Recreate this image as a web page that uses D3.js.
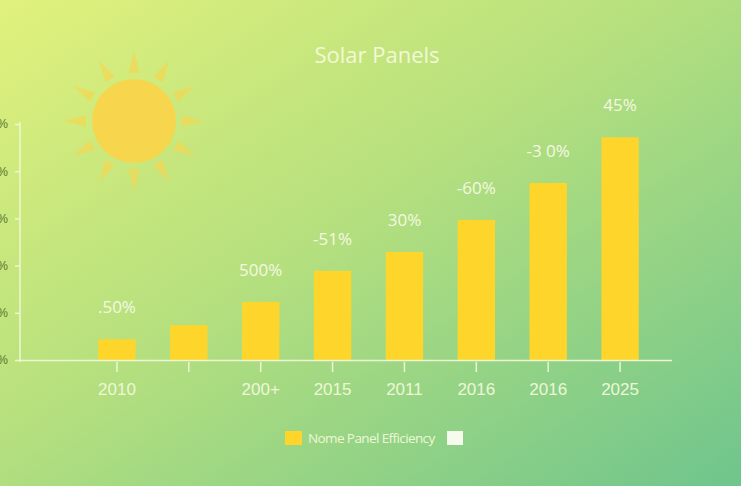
<!DOCTYPE html>
<html>
<head>
<meta charset="utf-8">
<script src="https://cdn.jsdelivr.net/npm/d3@7"></script>
<style>
  html, body { margin: 0; padding: 0; overflow: hidden; }
  svg { display: block; font-family: "Open Sans", "Noto Sans", sans-serif; }
</style>
</head>
<body>
<svg id="chart"></svg>
<script>
// chart data
var categories = ["2010", "", "200+", "2015", "2011", "2016", "2016", "2025"];
var efficiency = [4.4, 7.4, 12.3, 18.9, 22.9, 29.7, 37.5, 47.2];
var valueLabels = [".50%", "", "500%", "-51%", "30%", "-60%", "-3 0%", "45%"];
var yTicks = [0, 10, 20, 30, 40, 50];
var seriesName = "Nome Panel Efficiency";

var W = 741, H = 486;
var svg = d3.select("#chart").attr("width", W).attr("height", H);

// background gradient
var defs = svg.append("defs");
var grad = defs.append("linearGradient")
  .attr("id", "bg")
  .attr("x1", 0).attr("y1", 0).attr("x2", 1).attr("y2", 1);
grad.append("stop").attr("offset", "0%").attr("stop-color", "#e1f17c");
grad.append("stop").attr("offset", "45%").attr("stop-color", "#b6e07e");
grad.append("stop").attr("offset", "100%").attr("stop-color", "#6fc58d");
svg.append("rect").attr("width", W).attr("height", H).attr("fill", "url(#bg)");

// sun decoration
var sun = svg.append("g").attr("transform", "translate(134,121)");
d3.range(12).forEach(function (i) {
  var a = i * Math.PI / 6 - Math.PI / 2;
  var r0 = 48, r1 = 70, hw = 5.5;
  var bx = Math.cos(a) * r0, by = Math.sin(a) * r0;
  var px = -Math.sin(a) * hw, py = Math.cos(a) * hw;
  sun.append("path")
    .attr("d", "M" + (bx + px) + "," + (by + py) +
      "L" + (Math.cos(a) * r1) + "," + (Math.sin(a) * r1) +
      "L" + (bx - px) + "," + (by - py) + "Z")
    .attr("fill", "#f8d54e")
    .attr("opacity", 0.65);
});
sun.append("circle").attr("r", 42).attr("fill", "#f9d54b").attr("opacity", 0.95);

// title
svg.append("text")
  .attr("x", 377).attr("y", 63)
  .attr("text-anchor", "middle")
  .style("font-size", "22px")
  .style("fill", "#f3f9d6")
  .text("Solar Panels");

// scales
var x = d3.scaleBand()
  .domain(d3.range(categories.length))
  .range([81, 656])
  .paddingInner(0.48)
  .paddingOuter(0.24);

var y = d3.scaleLinear().domain([0, 50]).range([360, 124]);

// y axis (labels run off the left edge, as in the picture)
var yAxis = svg.append("g")
  .attr("transform", "translate(20,0)")
  .call(d3.axisLeft(y).tickValues(yTicks).tickSizeOuter(0).tickSize(5).tickPadding(7)
    .tickFormat(function (d) { return d + "%"; }));
yAxis.select(".domain").attr("stroke", "#eef7d2").attr("stroke-width", 1.5)
  .attr("d", "M0,122V362");
yAxis.selectAll(".tick line").attr("stroke", "#eef7d2").attr("stroke-width", 1.5);
yAxis.selectAll(".tick text")
  .style("font-size", "12px")
  .style("fill", "#56762c");

// bars
svg.selectAll(".bar")
  .data(efficiency)
  .enter()
  .append("rect")
  .attr("class", "bar")
  .attr("x", function (d, i) { return x(i); })
  .attr("y", function (d) { return y(d); })
  .attr("width", x.bandwidth())
  .attr("height", function (d) { return y(0) - y(d); })
  .style("fill", "#fdd52b");

// value labels
svg.selectAll(".bar-value")
  .data(efficiency)
  .enter()
  .append("text")
  .attr("class", "bar-value")
  .attr("x", function (d, i) { return x(i) + x.bandwidth() / 2; })
  .attr("y", function (d) { return y(d) - 26; })
  .attr("text-anchor", "middle")
  .style("font-size", "17px")
  .style("fill", "#f4f9e2")
  .text(function (d, i) { return valueLabels[i]; });

// x axis
svg.append("line")
  .attr("x1", 20).attr("x2", 672)
  .attr("y1", 360.5).attr("y2", 360.5)
  .attr("stroke", "#eef7d2").attr("stroke-width", 1.5);

var xAxis = svg.append("g")
  .attr("transform", "translate(0,362)")
  .call(d3.axisBottom(x).tickSize(10).tickPadding(11)
    .tickFormat(function (i) { return categories[i]; }));
xAxis.select(".domain").remove();
xAxis.selectAll(".tick line").attr("stroke", "#eef7d2").attr("stroke-width", 1.5);
xAxis.selectAll(".tick text")
  .style("font-size", "17px")
  .style("fill", "#eef7d8");

// legend
var legend = svg.append("g").attr("transform", "translate(285,431)");
legend.append("rect").attr("width", 17).attr("height", 14).attr("fill", "#fdd52b");
legend.append("text")
  .attr("x", 23).attr("y", 12)
  .style("font-size", "13.5px")
  .style("letter-spacing", "-0.6px")
  .style("fill", "#eef7d8")
  .text(seriesName);
legend.append("rect").attr("x", 162).attr("width", 16).attr("height", 14).attr("fill", "#f7fbee");
</script>
</body>
</html>
